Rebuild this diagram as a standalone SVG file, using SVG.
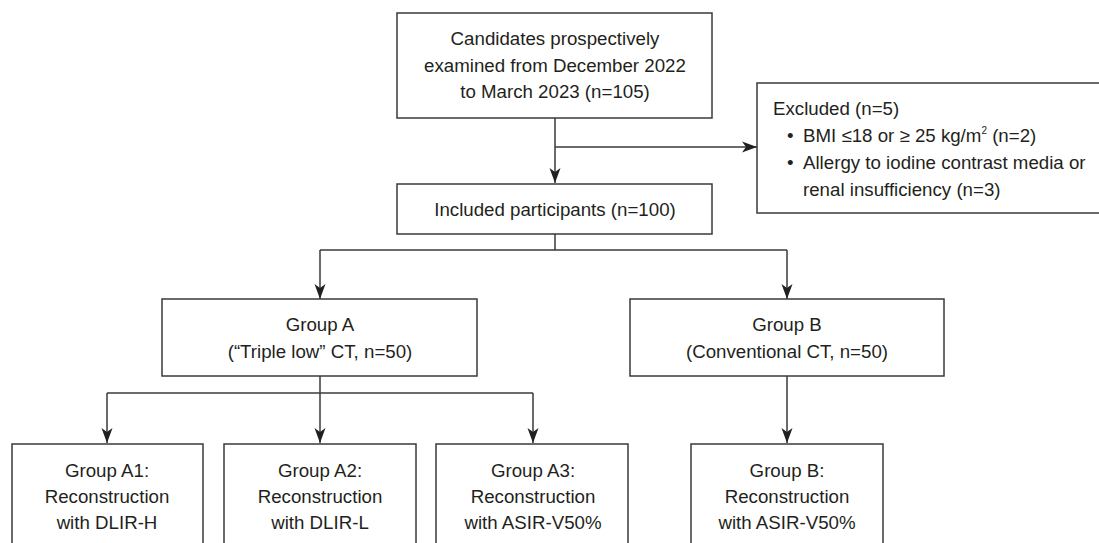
<svg xmlns="http://www.w3.org/2000/svg" width="1099" height="543" viewBox="0 0 1099 543">
<style>
.box{fill:#fff;stroke:#3a3a3a;stroke-width:1.5}
.t{font-family:"Liberation Sans",Arial,sans-serif;font-size:18.7px;fill:#231f20;text-anchor:middle}
.tl{font-family:"Liberation Sans",Arial,sans-serif;font-size:18.7px;fill:#231f20}
.c{fill:none;stroke:#3a3a3a;stroke-width:1.5}
</style>
<defs>
<marker id="ah" markerUnits="userSpaceOnUse" markerWidth="16" markerHeight="12" refX="15" refY="5.5" orient="auto" viewBox="0 0 16 11">
<path d="M0,0 L15,5.5 L0,11 L4,5.5 z" fill="#231f20"/>
</marker>
</defs>
<rect width="1099" height="543" fill="#fff"/>
<g id="connectors">
<path class="c" d="M555,118 V183" marker-end="url(#ah)"/>
<path class="c" d="M555,147 H757" marker-end="url(#ah)"/>
<path class="c" d="M555,234 V250"/>
<path class="c" d="M320,250 H787"/>
<path class="c" d="M320,250 V299" marker-end="url(#ah)"/>
<path class="c" d="M787,250 V299" marker-end="url(#ah)"/>
<path class="c" d="M320,376 V393"/>
<path class="c" d="M107,393 H533"/>
<path class="c" d="M107,393 V443" marker-end="url(#ah)"/>
<path class="c" d="M320,393 V443" marker-end="url(#ah)"/>
<path class="c" d="M533,393 V443" marker-end="url(#ah)"/>
<path class="c" d="M787,376 V443" marker-end="url(#ah)"/>
</g>
<g id="candidates">
<rect class="box" x="397" y="13" width="315" height="105"/>
<text class="t" x="555" y="45">Candidates prospectively</text>
<text class="t" x="555" y="72">examined from December 2022</text>
<text class="t" x="555" y="98">to March 2023 (n=105)</text>
</g>
<g id="excluded">
<rect class="box" x="757" y="83" width="360" height="130"/>
<text class="tl" x="773" y="115">Excluded (n=5)</text>
<text class="tl" x="787" y="142">•</text>
<text class="tl" x="803" y="142">BMI ≤18 or ≥ 25 kg/m<tspan font-size="10" dy="-8">2</tspan><tspan dy="8"> (n=2)</tspan></text>
<text class="tl" x="787" y="169">•</text>
<text class="tl" x="803" y="169">Allergy to iodine contrast media or</text>
<text class="tl" x="803" y="196">renal insufficiency (n=3)</text>
</g>
<g id="included">
<rect class="box" x="397" y="184" width="315" height="50"/>
<text class="t" x="555" y="216">Included participants (n=100)</text>
</g>
<g id="groupA">
<rect class="box" x="162" y="299" width="315" height="77"/>
<text class="t" x="320" y="331">Group A</text>
<text class="t" x="320" y="358">(“Triple low” CT, n=50)</text>
</g>
<g id="groupB">
<rect class="box" x="630" y="299" width="314" height="77"/>
<text class="t" x="787" y="331">Group B</text>
<text class="t" x="787" y="358">(Conventional CT, n=50)</text>
</g>
<g id="groupA1">
<rect class="box" x="12" y="444" width="191" height="120"/>
<text class="t" x="107" y="477">Group A1:</text>
<text class="t" x="107" y="503">Reconstruction</text>
<text class="t" x="107" y="529">with DLIR-H</text>
</g>
<g id="groupA2">
<rect class="box" x="224" y="444" width="192" height="120"/>
<text class="t" x="320" y="477">Group A2:</text>
<text class="t" x="320" y="503">Reconstruction</text>
<text class="t" x="320" y="529">with DLIR-L</text>
</g>
<g id="groupA3">
<rect class="box" x="436" y="444" width="192" height="120"/>
<text class="t" x="533" y="477">Group A3:</text>
<text class="t" x="533" y="503">Reconstruction</text>
<text class="t" x="533" y="529">with ASIR-V50%</text>
</g>
<g id="groupB2">
<rect class="box" x="691" y="444" width="192" height="120"/>
<text class="t" x="787" y="477">Group B:</text>
<text class="t" x="787" y="503">Reconstruction</text>
<text class="t" x="787" y="529">with ASIR-V50%</text>
</g>
</svg>
